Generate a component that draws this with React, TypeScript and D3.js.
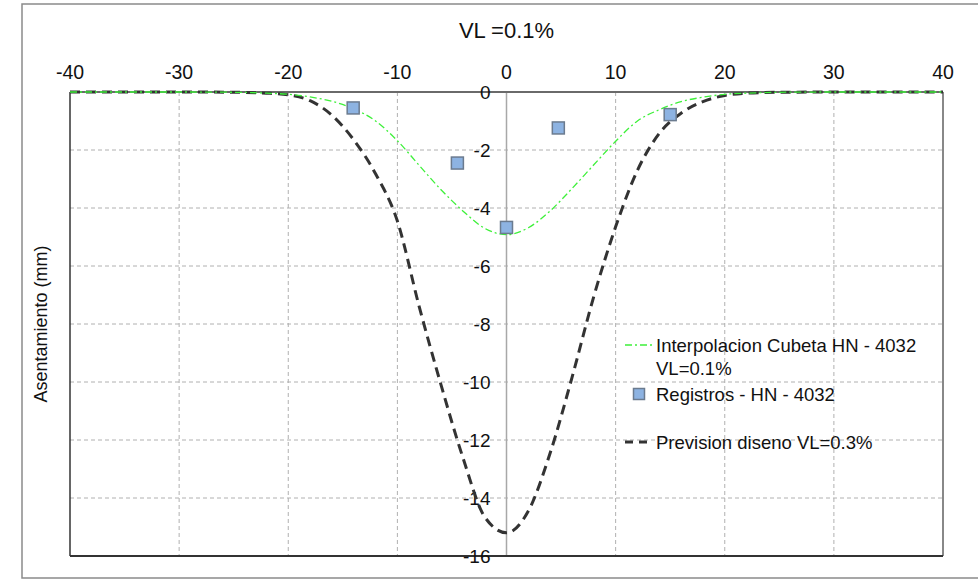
import {useEffect, useRef} from 'react';
import * as d3 from 'd3';

const xTicks = [-40, -30, -20, -10, 0, 10, 20, 30, 40];
const yTicks = [0, -2, -4, -6, -8, -10, -12, -14, -16];

// distance from axis (m)
const distancia = [
  -40, -30, -25, -22, -20, -18, -16, -14, -12, -10, -8, -6, -4, -2, 0, 2, 4, 6, 8,
  10, 12, 14, 16, 18, 20, 22, 25, 30, 40,
];
const interpolacion = [
  0, 0, -0.01, -0.04, -0.08, -0.17, -0.32, -0.58, -1.0, -1.68, -2.53, -3.37, -4.1,
  -4.7, -4.92, -4.68, -4.1, -3.33, -2.51, -1.7, -1.0, -0.61, -0.33, -0.18, -0.08,
  -0.04, -0.01, 0, 0,
];
const prevision = [
  0, 0, -0.01, -0.04, -0.1, -0.3, -0.8, -1.65, -2.82, -4.45, -7.4, -10.1, -12.6,
  -14.65, -15.2, -14.45, -12.45, -9.85, -7.05, -4.65, -2.7, -1.43, -0.73, -0.33,
  -0.12, -0.04, -0.01, 0, 0,
];

const registrosX = [-14.05, -4.5, 0, 4.75, 15];
const registrosY = [-0.55, -2.45, -4.67, -1.24, -0.78];

const FONT = '"Liberation Sans", Arial, sans-serif';

const App = () => {
  const svgRef = useRef<SVGSVGElement | null>(null);

  useEffect(() => {
    if (!svgRef.current) return;
    const width = 978;
    const height = 580;
    const margin = {top: 92, right: 35, bottom: 24, left: 70};

    const svg = d3.select(svgRef.current);
    svg.selectAll('*').remove();

    const x = d3
      .scaleLinear()
      .domain([-40, 40])
      .range([margin.left, width - margin.right]);
    const y = d3
      .scaleLinear()
      .domain([0, -16])
      .range([margin.top, height - margin.bottom]);

    // outer frame
    svg
      .append('rect')
      .attr('x', 22)
      .attr('y', 4)
      .attr('width', 1000)
      .attr('height', 574)
      .attr('fill', 'white')
      .attr('stroke', '#8a8a8a')
      .attr('stroke-width', 1.5);

    // grid
    svg
      .append('g')
      .selectAll('line')
      .data(xTicks.filter((d) => d !== 0 && Math.abs(d) !== 40))
      .join('line')
      .attr('x1', (d) => x(d))
      .attr('x2', (d) => x(d))
      .attr('y1', y(0))
      .attr('y2', y(-16))
      .attr('stroke', '#b0b0b0')
      .attr('stroke-dasharray', '4 3');

    svg
      .append('g')
      .selectAll('line')
      .data(yTicks.filter((d) => d !== 0 && d !== -16))
      .join('line')
      .attr('x1', x(-40))
      .attr('x2', x(40))
      .attr('y1', (d) => y(d))
      .attr('y2', (d) => y(d))
      .attr('stroke', '#b0b0b0')
      .attr('stroke-dasharray', '4 3');

    // zero vertical axis
    svg
      .append('line')
      .attr('x1', x(0))
      .attr('x2', x(0))
      .attr('y1', y(0))
      .attr('y2', y(-16))
      .attr('stroke', '#a8a8a8')
      .attr('stroke-width', 1.5);

    // plot frame
    svg
      .append('line')
      .attr('x1', x(40))
      .attr('x2', x(40))
      .attr('y1', y(0))
      .attr('y2', y(-16))
      .attr('stroke', '#888')
      .attr('stroke-width', 2);
    svg
      .append('line')
      .attr('x1', x(-40))
      .attr('x2', x(-40))
      .attr('y1', y(0))
      .attr('y2', y(-16))
      .attr('stroke', '#333')
      .attr('stroke-width', 1.5);
    svg
      .append('line')
      .attr('x1', x(-40))
      .attr('x2', x(40))
      .attr('y1', y(-16))
      .attr('y2', y(-16))
      .attr('stroke', '#333')
      .attr('stroke-width', 2);
    svg
      .append('line')
      .attr('x1', x(-40))
      .attr('x2', x(40))
      .attr('y1', y(0))
      .attr('y2', y(0))
      .attr('stroke', '#6a6a6a')
      .attr('stroke-width', 2);

    // x tick labels (top)
    svg
      .append('g')
      .selectAll('text')
      .data(xTicks)
      .join('text')
      .attr('x', (d) => x(d))
      .attr('y', 72)
      .attr('text-anchor', 'middle')
      .attr('dominant-baseline', 'central')
      .attr('font-family', FONT)
      .attr('font-size', 19.5)
      .attr('fill', '#111')
      .text((d) => d);

    // y tick labels on the zero axis
    svg
      .append('g')
      .selectAll('text')
      .data(yTicks)
      .join('text')
      .attr('x', x(0) - 16)
      .attr('y', (d) => y(d))
      .attr('text-anchor', 'end')
      .attr('dominant-baseline', 'central')
      .attr('font-family', FONT)
      .attr('font-size', 19)
      .attr('fill', '#111')
      .text((d) => d);

    // title
    svg
      .append('text')
      .attr('x', x(0))
      .attr('y', 30)
      .attr('text-anchor', 'middle')
      .attr('dominant-baseline', 'central')
      .attr('font-family', FONT)
      .attr('font-size', 22)
      .attr('fill', '#111')
      .text('VL =0.1%');

    // y axis title
    svg
      .append('text')
      .attr('transform', `translate(41,${(y(0) + y(-16)) / 2}) rotate(-90)`)
      .attr('text-anchor', 'middle')
      .attr('dominant-baseline', 'central')
      .attr('font-family', FONT)
      .attr('font-size', 18)
      .attr('fill', '#111')
      .text('Asentamiento (mm)');

    const line = (vals: number[]) =>
      d3
        .line<number>()
        .x((_, i) => x(distancia[i]))
        .y((d) => y(d))
        .curve(d3.curveMonotoneX)(vals);

    svg
      .append('path')
      .attr('d', line(prevision))
      .attr('fill', 'none')
      .attr('stroke', '#333')
      .attr('stroke-width', 3)
      .attr('stroke-dasharray', '10 6');

    svg
      .append('path')
      .attr('d', line(interpolacion))
      .attr('fill', 'none')
      .attr('stroke', '#3ef03a')
      .attr('stroke-width', 1.3)
      .attr('stroke-dasharray', '7 3 2 3');

    const sq = 12;
    svg
      .append('g')
      .selectAll('rect')
      .data(registrosX)
      .join('rect')
      .attr('x', (d) => x(d) - sq / 2)
      .attr('y', (_, i) => y(registrosY[i]) - sq / 2)
      .attr('width', sq)
      .attr('height', sq)
      .attr('fill', '#8db3e2')
      .attr('stroke', '#6b7b8f')
      .attr('stroke-width', 1.5);

    // legend
    const lg = svg
      .append('g')
      .attr('font-family', FONT)
      .attr('font-size', 18.5)
      .attr('fill', '#111');
    lg.append('line')
      .attr('x1', 625)
      .attr('x2', 653)
      .attr('y1', 345)
      .attr('y2', 345)
      .attr('stroke', '#3ef03a')
      .attr('stroke-width', 1.3)
      .attr('stroke-dasharray', '7 3 2 3');
    lg.append('text')
      .attr('x', 656)
      .attr('y', 345)
      .attr('dominant-baseline', 'central')
      .text('Interpolacion Cubeta HN - 4032');
    lg.append('text')
      .attr('x', 656)
      .attr('y', 368)
      .attr('dominant-baseline', 'central')
      .text('VL=0.1%');
    lg.append('rect')
      .attr('x', 639 - 5.5)
      .attr('y', 394 - 5.5)
      .attr('width', 11)
      .attr('height', 11)
      .attr('fill', '#8db3e2')
      .attr('stroke', '#6b7b8f')
      .attr('stroke-width', 1.5);
    lg.append('text')
      .attr('x', 656)
      .attr('y', 394)
      .attr('dominant-baseline', 'central')
      .text('Registros - HN - 4032');
    lg.append('line')
      .attr('x1', 625)
      .attr('x2', 653)
      .attr('y1', 442)
      .attr('y2', 442)
      .attr('stroke', '#333')
      .attr('stroke-width', 3)
      .attr('stroke-dasharray', '8 6');
    lg.append('text')
      .attr('x', 656)
      .attr('y', 442)
      .attr('dominant-baseline', 'central')
      .text('Prevision diseno VL=0.3%');
  }, []);

  return (
    <svg
      ref={svgRef}
      width={978}
      height={580}
      style={{position: 'absolute', left: 0, top: 0, background: 'white'}}
    ></svg>
  );
};

export default App;
